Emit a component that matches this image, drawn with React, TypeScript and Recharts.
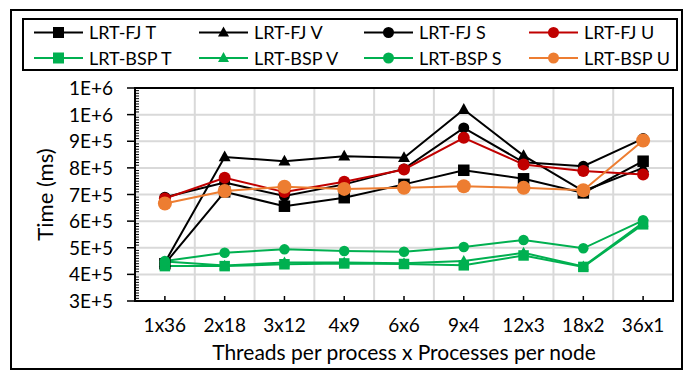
import React from 'react';
import { LineChart, Line, XAxis, YAxis, CartesianGrid, ReferenceArea } from 'recharts';

const categories = ['1x36', '2x18', '3x12', '4x9', '6x6', '9x4', '12x3', '18x2', '36x1'];
const fjT = [440000, 710000, 656000, 688000, 738000, 791000, 759000, 706000, 825000];
const fjV = [445000, 841000, 825000, 844000, 838000, 1019000, 846000, 713000, 800000];
const fjS = [690000, 745000, 694000, 738000, 796000, 950000, 821000, 806000, 910000];
const fjU = [685000, 763000, 709000, 748000, 794000, 913000, 813000, 788000, 775000];
const bspT = [431000, 431000, 438000, 441000, 439000, 434000, 471000, 428000, 588000];
const bspV = [448000, 433000, 445000, 445000, 442000, 450000, 481000, 430000, 595000];
const bspS = [450000, 481000, 494000, 488000, 485000, 503000, 529000, 498000, 603000];
const bspU = [666000, 713000, 729000, 721000, 725000, 731000, 725000, 716000, 903000];
const yMajorTicks = [300000, 400000, 500000, 600000, 700000, 800000, 900000, 1000000, 1100000];
const minorStep = 10000;

const FONT = 'Lato, "Noto Sans", sans-serif';

type Shape = 'square' | 'triangle' | 'circle';
const series: { key: string; name: string; color: string; shape: Shape; size: number; values: number[] }[] = [
  { key: 'fjT', name: 'LRT-FJ T', color: '#000000', shape: 'square', size: 11.5, values: fjT },
  { key: 'fjV', name: 'LRT-FJ V', color: '#000000', shape: 'triangle', size: 12, values: fjV },
  { key: 'fjS', name: 'LRT-FJ S', color: '#000000', shape: 'circle', size: 11, values: fjS },
  { key: 'fjU', name: 'LRT-FJ U', color: '#c00000', shape: 'circle', size: 12, values: fjU },
  { key: 'bspT', name: 'LRT-BSP T', color: '#00b050', shape: 'square', size: 10.5, values: bspT },
  { key: 'bspV', name: 'LRT-BSP V', color: '#00b050', shape: 'triangle', size: 11, values: bspV },
  { key: 'bspS', name: 'LRT-BSP S', color: '#00b050', shape: 'circle', size: 10.5, values: bspS },
  { key: 'bspU', name: 'LRT-BSP U', color: '#ed7d31', shape: 'circle', size: 14, values: bspU },
];

const data = categories.map((cat, i) => {
  const row: Record<string, number | string> = { pos: i + 0.5, cat };
  series.forEach((s) => {
    row[s.key] = s.values[i];
  });
  return row;
});

const xTickValues = categories.map((_, i) => i + 0.5);
const xGridValues = categories.slice(1).map((_, i) => i + 1);
const yGridValues = yMajorTicks.slice(1, -1);
const yAllTicks: number[] = [];
for (let v = yMajorTicks[0]; v <= yMajorTicks[yMajorTicks.length - 1]; v += minorStep) yAllTicks.push(v);

function fmtSci(v: number): string {
  const e = Math.floor(Math.log10(v));
  const m = Math.round(v / Math.pow(10, e));
  return `${m}E+${e}`;
}

function Marker({ shape, cx, cy, size, color }: { shape: Shape; cx: number; cy: number; size: number; color: string }) {
  if (shape === 'square') {
    return <rect x={cx - size / 2} y={cy - size / 2} width={size} height={size} fill={color} />;
  }
  if (shape === 'triangle') {
    const h = size * 0.9;
    return (
      <polygon
        points={`${cx},${cy - h * 0.6} ${cx + size / 2},${cy + h * 0.4} ${cx - size / 2},${cy + h * 0.4}`}
        fill={color}
      />
    );
  }
  return <circle cx={cx} cy={cy} r={size / 2} fill={color} />;
}

const makeDot = (s: (typeof series)[number]) => (props: any) => {
  const { cx, cy, index } = props;
  if (cx == null || cy == null) return <g key={index} />;
  return (
    <g key={`${s.key}-${index}`}>
      <Marker shape={s.shape} cx={cx} cy={cy} size={s.size} color={s.color} />
    </g>
  );
};

const XTick = (props: any) => {
  const { x, y, payload } = props;
  return (
    <g>
      <line x1={x} x2={x} y1={y} y2={y - 5} stroke="#000" strokeWidth={1.5} />
      <text x={x} y={y + 31} textAnchor="middle" fontFamily={FONT} fontSize={19} fill="#000">
        {categories[Math.floor(payload.value)]}
      </text>
    </g>
  );
};

const YTick = (props: any) => {
  const { x, y, payload } = props;
  const v = payload.value as number;
  if (v % 100000 === 0) {
    return (
      <g>
        <line x1={x - 8} x2={x} y1={y} y2={y} stroke="#000" strokeWidth={1.5} />
        <text x={x - 22} y={y + 7} textAnchor="end" fontFamily={FONT} fontSize={19} fill="#000">
          {fmtSci(v)}
        </text>
      </g>
    );
  }
  return <line x1={x} x2={x + 4} y1={y} y2={y} stroke="#000" strokeWidth={1} />;
};

const LegendBox = () => {
  const colW = 165;
  return (
    <svg width={656} height={53} style={{ display: 'block' }}>
      <rect x={1} y={1} width={654} height={51} fill="#fff" stroke="#000" strokeWidth={2} />
      {series.map((s, i) => {
        const col = i % 4;
        const row = Math.floor(i / 4);
        const x0 = 12 + col * colW;
        const cy = row === 0 ? 14.5 : 40;
        return (
          <g key={s.key}>
            <line x1={x0} x2={x0 + 49} y1={cy} y2={cy} stroke={s.color} strokeWidth={2} />
            <Marker shape={s.shape} cx={x0 + 24.5} cy={cy} size={11} color={s.color} />
            <text x={x0 + 55} y={cy + 6.5} fontFamily={FONT} fontSize={18} fill="#000">
              {s.name}
            </text>
          </g>
        );
      })}
    </svg>
  );
};

const YLabel = (props: any) => {
  const vb = props.viewBox;
  const cx = vb.x + 45;
  const cy = vb.y + vb.height / 2;
  return (
    <text
      transform={`translate(${cx},${cy}) rotate(-90)`}
      textAnchor="middle"
      dy={8}
      fontFamily={FONT}
      fontSize={22}
      fill="#000"
    >
      Time (ms)
    </text>
  );
};

const XLabel = (props: any) => {
  const vb = props.viewBox;
  return (
    <text x={vb.x + vb.width / 2} y={vb.y + 59} textAnchor="middle" fontFamily={FONT} fontSize={21} fill="#000">
      Threads per process x Processes per node
    </text>
  );
};

export default function App() {
  return (
    <div style={{ position: 'absolute', left: 0, top: 0, width: 687, height: 372, background: '#fff' }}>
      <div
        style={{
          position: 'absolute',
          left: 10,
          top: 9,
          width: 673,
          height: 361,
          border: '2px solid #000',
          boxSizing: 'border-box',
        }}
      />
      <div style={{ position: 'absolute', left: 0, top: 0 }}>
        <LineChart width={687} height={372} data={data} margin={{ top: 88, right: 14, bottom: 0, left: 0 }}>
          <CartesianGrid
            stroke="#d9d9d9"
            strokeWidth={2}
            horizontalValues={yGridValues}
            verticalValues={xGridValues}
          />
          <XAxis
            dataKey="pos"
            type="number"
            domain={[0, categories.length]}
            ticks={xTickValues}
            interval={0}
            tickSize={0}
            tickMargin={0}
            tickLine={false}
            tick={<XTick />}
            axisLine={{ stroke: '#000', strokeWidth: 2 }}
            height={71}
            label={<XLabel />}
          />
          <YAxis
            type="number"
            domain={[yMajorTicks[0], yMajorTicks[yMajorTicks.length - 1]]}
            ticks={yAllTicks}
            interval={0}
            tickSize={0}
            tickMargin={0}
            tickLine={false}
            tick={<YTick />}
            axisLine={{ stroke: '#000', strokeWidth: 2 }}
            width={135}
            allowDataOverflow
            label={<YLabel />}
          />
          <ReferenceArea
            x1={0}
            x2={categories.length}
            y1={yMajorTicks[0]}
            y2={yMajorTicks[yMajorTicks.length - 1]}
            fill="none"
            fillOpacity={0}
            stroke="#000"
            strokeWidth={2}
          />
          {series.map((s) => (
            <Line
              key={s.key}
              dataKey={s.key}
              name={s.name}
              stroke={s.color}
              strokeWidth={2}
              dot={makeDot(s)}
              activeDot={false}
              isAnimationActive={false}
            />
          ))}
        </LineChart>
      </div>
      <div style={{ position: 'absolute', left: 22, top: 18 }}>
        <LegendBox />
      </div>
    </div>
  );
}
